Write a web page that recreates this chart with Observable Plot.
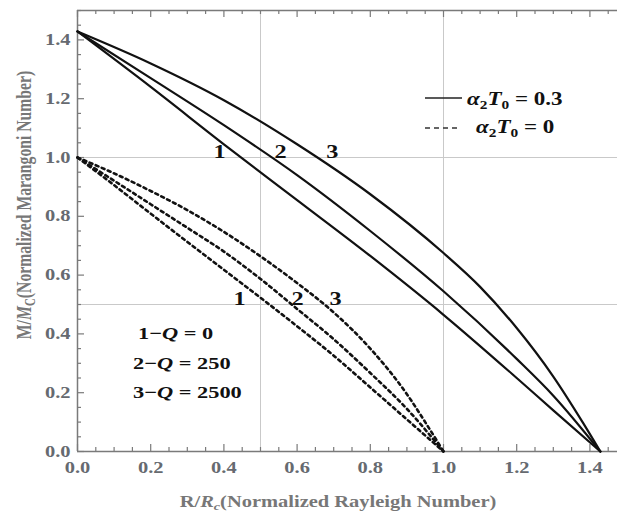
<!DOCTYPE html>
<html><head><meta charset="utf-8">
<script src="https://cdn.jsdelivr.net/npm/d3@7"></script>
<script src="https://cdn.jsdelivr.net/npm/@observablehq/plot@0.6"></script>
<style>html,body{margin:0;padding:0;background:#fff;overflow:hidden} svg{display:block}</style>
</head><body><div id="chart"></div>
<script>
// ---- data ----
const seriesNames = ["1", "2", "3"];
const qValues = ["0", "250", "2500"];
const alphaT0 = ["0.3", "0"];

// solid curves (alpha2 T0 = 0.3)
const solid1X = [0, 0.2, 0.4, 0.6, 0.8, 1.0, 1.2, 1.3, 1.4286];
const solid1Y = [1.4286, 1.24, 1.045, 0.855, 0.665, 0.465, 0.25, 0.14, 0];
const solid2X = [0, 0.2, 0.4, 0.6, 0.8, 1.0, 1.2, 1.3, 1.4286];
const solid2Y = [1.4286, 1.27, 1.11, 0.94, 0.75, 0.545, 0.315, 0.19, 0];
const solid3X = [0, 0.2, 0.4, 0.6, 0.8, 1.0, 1.1, 1.2, 1.3, 1.38, 1.4286];
const solid3Y = [1.4286, 1.32, 1.195, 1.045, 0.875, 0.675, 0.56, 0.42, 0.255, 0.1, 0];

// dashed curves (alpha2 T0 = 0)
const dash1X = [0, 0.1, 0.2, 0.3, 0.4, 0.5, 0.6, 0.7, 0.8, 0.9, 1.0];
const dash1Y = [1, 0.906, 0.809, 0.713, 0.618, 0.523, 0.426, 0.326, 0.218, 0.109, 0];
const dash2X = [0, 0.1, 0.2, 0.3, 0.4, 0.5, 0.6, 0.7, 0.8, 0.9, 1.0];
const dash2Y = [1, 0.921, 0.841, 0.761, 0.68, 0.587, 0.485, 0.382, 0.267, 0.145, 0];
const dash3X = [0, 0.1, 0.2, 0.3, 0.4, 0.5, 0.6, 0.7, 0.8, 0.9, 0.95, 1.0];
const dash3Y = [1, 0.946, 0.886, 0.821, 0.747, 0.664, 0.573, 0.473, 0.35, 0.195, 0.10, 0];

// curve label positions
const solidLabelX = [0.388, 0.555, 0.696];
const solidLabelY = [1.0, 1.0, 1.0];
const dashLabelX = [0.443, 0.601, 0.705];
const dashLabelY = [0.5, 0.5, 0.5];

// ticks and grid
const xTickLabels = [0, 0.2, 0.4, 0.6, 0.8, 1.0, 1.2, 1.4];
const yTickLabels = [0, 0.2, 0.4, 0.6, 0.8, 1.0, 1.2, 1.4];
const gridX = [0.5, 1.0];
const gridY = [0.5, 1.0];

// ---- build ----
const W = 617, H = 513, ML = 77, MR = 0, MT = 10, MB = 62;
const PW = W - ML - MR, PH = H - MT - MB;
const serif = "'Liberation Serif', 'Times New Roman', serif";
const tickColor = "#666a70";
const frameColor = "#7a7a7a";
const S = 1.28; // horizontal text stretch seen in the reference

const mk = (xs, ys, curve) => xs.map((x, i) => ({x, y: ys[i], curve}));
const solid = [...mk(solid1X, solid1Y, "1"), ...mk(solid2X, solid2Y, "2"), ...mk(solid3X, solid3Y, "3")];
const dashed = [...mk(dash1X, dash1Y, "1"), ...mk(dash2X, dash2Y, "2"), ...mk(dash3X, dash3Y, "3")];

const isMajor = v => Math.abs(v / 0.2 - Math.round(v / 0.2)) < 1e-6;
const xMinor = d3.range(0, 1.4751, 0.05).map(v => +v.toFixed(2)).filter(v => !isMajor(v));
const yMinor = d3.range(0, 1.501, 0.05).map(v => +v.toFixed(2)).filter(v => !isMajor(v));
const MAJ = 7, MIN = 4;
const fmt = d3.format(".1f");

const chart = Plot.plot({
  width: W, height: H,
  marginLeft: ML, marginRight: MR, marginTop: MT, marginBottom: MB,
  x: {domain: [0, 1.4754], axis: null},
  y: {domain: [0, 1.5], axis: null},
  style: {background: "#fff", overflow: "visible"},
  marks: [
    Plot.ruleX(gridX, {stroke: "#c9c9c9", strokeWidth: 1}),
    Plot.ruleY(gridY, {stroke: "#c9c9c9", strokeWidth: 1}),
    // frame
    Plot.ruleX([0], {stroke: frameColor, strokeWidth: 1.5}),
    Plot.ruleY([0, 1.5], {stroke: frameColor, strokeWidth: 1.5}),
    // ticks bottom / top
    Plot.tickX(xTickLabels, {x: d => d, insetTop: PH - MAJ, stroke: frameColor, strokeWidth: 1.2}),
    Plot.tickX(xMinor, {x: d => d, insetTop: PH - MIN, stroke: frameColor, strokeWidth: 1.2}),
    Plot.tickX(xTickLabels, {x: d => d, insetBottom: PH - MAJ, stroke: frameColor, strokeWidth: 1.2}),
    Plot.tickX(xMinor, {x: d => d, insetBottom: PH - MIN, stroke: frameColor, strokeWidth: 1.2}),
    // ticks left
    Plot.tickY(yTickLabels, {y: d => d, insetRight: PW - MAJ, stroke: frameColor, strokeWidth: 1.2}),
    Plot.tickY(yMinor, {y: d => d, insetRight: PW - MIN, stroke: frameColor, strokeWidth: 1.2}),
    // tick labels
    Plot.text(xTickLabels, {x: d => d, y: d => 0, text: d => fmt(d), lineAnchor: "top", dy: 10,
      fontSize: 16, fontFamily: serif, fontWeight: "bold", fill: tickColor}),
    Plot.text(yTickLabels, {x: d => 0, y: d => d, text: d => fmt(d), textAnchor: "end", lineAnchor: "middle", dx: -7,
      fontSize: 16, fontFamily: serif, fontWeight: "bold", fill: tickColor}),
    // curves
    Plot.line(dashed, {x: "x", y: "y", z: "curve", curve: "monotone-x", stroke: "#111", strokeWidth: 2.6, strokeDasharray: "3,3.6"}),
    Plot.line(solid, {x: "x", y: "y", z: "curve", curve: "monotone-x", stroke: "#111", strokeWidth: 2.2}),
    // curve labels
    Plot.text(seriesNames, {x: (d, i) => solidLabelX[i], y: (d, i) => solidLabelY[i], text: d => d, lineAnchor: "bottom", dy: 0,
      fontSize: 19, fontFamily: serif, fontWeight: "bold", fill: "#111"}),
    Plot.text(seriesNames, {x: (d, i) => dashLabelX[i], y: (d, i) => dashLabelY[i], text: d => d, lineAnchor: "bottom", dy: 0,
      fontSize: 19, fontFamily: serif, fontWeight: "bold", fill: "#111"})
  ]
});

// stretch every text drawn by Plot horizontally about its anchor
d3.select(chart).selectAll("text").each(function () {
  const t = this.getAttribute("transform") || "";
  this.setAttribute("transform", `${t} scale(${S},1)`);
});

const svg = d3.select(chart);
function addText(x, y, size, anchor, fill, extra = "") {
  return svg.append("text").attr("transform", `translate(${x},${y}) ${extra}`)
    .attr("text-anchor", anchor).attr("font-family", serif).attr("font-size", size)
    .attr("font-weight", "bold").attr("fill", fill);
}
// axis titles
const xt = addText(338, 507, 16, "middle", "#777", `scale(${S},1)`);
xt.append("tspan").text("R/");
xt.append("tspan").attr("font-style", "italic").text("R");
xt.append("tspan").attr("font-style", "italic").attr("font-size", 11).attr("dy", 3).text("c");
xt.append("tspan").attr("dy", -3).text("(Normalized Rayleigh Number)");

const yt = addText(31, 205, 15.7, "middle", "#777", `scale(${S},1) rotate(-90)`);
yt.append("tspan").text("M/");
yt.append("tspan").attr("font-style", "italic").text("M");
yt.append("tspan").attr("font-size", 11).attr("dy", 3).text("C");
yt.append("tspan").attr("dy", -3).text("(Normalized Marangoni Number)");

// line-style legend
svg.append("line").attr("x1", 425).attr("x2", 462).attr("y1", 98).attr("y2", 98).attr("stroke", "#222").attr("stroke-width", 1.5);
svg.append("line").attr("x1", 425).attr("x2", 461).attr("y1", 128).attr("y2", 128).attr("stroke", "#333").attr("stroke-width", 1.3).attr("stroke-dasharray", "5,4");
function alphaLabel(x, y, val) {
  const t = addText(x, y, 18, "start", "#111", `scale(${S},1)`);
  t.append("tspan").attr("font-style", "italic").text("α");
  t.append("tspan").attr("font-size", 12).attr("dy", 4).text("2");
  t.append("tspan").attr("font-style", "italic").attr("dy", -4).text("T");
  t.append("tspan").attr("font-size", 12).attr("dy", 4).text("0");
  t.append("tspan").attr("dy", -4).text(" = " + val);
}
alphaLabel(467, 105, alphaT0[0]);
alphaLabel(476, 133, alphaT0[1]);

// Q legend
const qY = [339, 369, 398];
const qX = [138, 133, 133];
seriesNames.forEach((n, i) => {
  const t = addText(qX[i], qY[i], 17.5, "start", "#111", `scale(${S},1)`);
  t.append("tspan").text(n + "\u2212");
  t.append("tspan").attr("font-style", "italic").text("Q");
  t.append("tspan").text(" = " + qValues[i]);
});

document.getElementById("chart").appendChild(chart);
</script>
</body></html>
